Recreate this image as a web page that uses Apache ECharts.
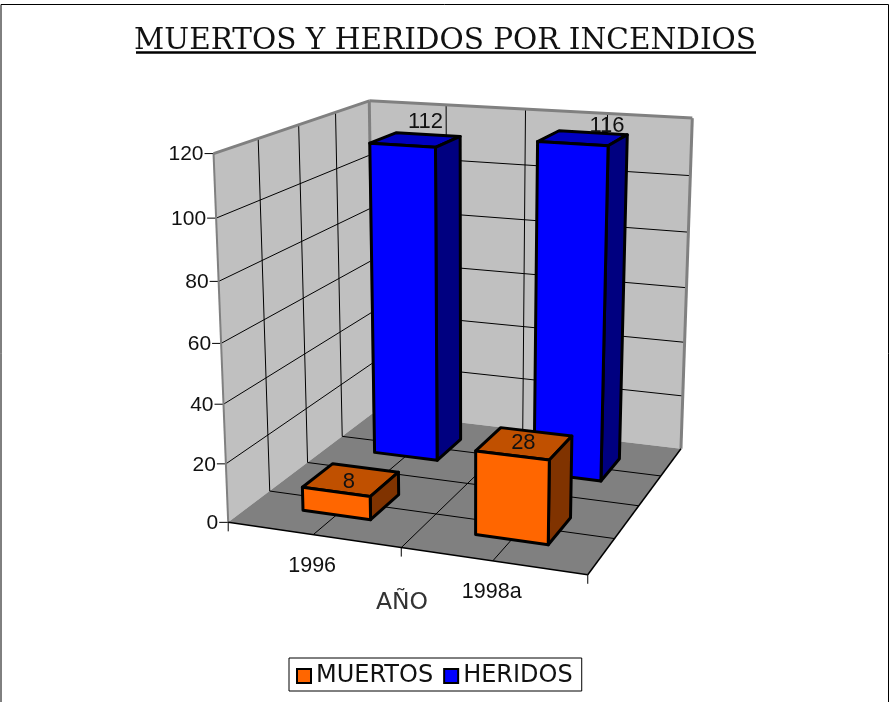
<!DOCTYPE html>
<html>
<head>
<meta charset="utf-8">
<title>Muertos y heridos por incendios</title>
<script src="https://cdn.jsdelivr.net/npm/echarts@6/dist/echarts.min.js"></script>
<style>
  html, body { margin: 0; padding: 0; background: #fff; }
  #main { width: 890px; height: 702px; }
</style>
</head>
<body>
<div id="main"></div>
<script>
var categories = ['1996', '1998a'];
var muertos = [8, 28];
var heridos = [112, 116];
var yTicks = [0, 20, 40, 60, 80, 100, 120];
var seriesNames = ['MUERTOS', 'HERIDOS'];

var yMax = 120;
var BAR_GAP = 0.3; // each side of a bar, as part of a category cell

// where the corners of the 3d box land on the page: [x, depth, height] -> [px, py]
var corners = [
  [[0, 0, 0], [228.3, 522.7]],
  [[1, 0, 0], [587.7, 574.5]],
  [[1, 1, 0], [681, 449]],
  [[0, 1, 0], [374, 412]],
  [[0, 0, 1], [213.5, 153.5]],
  [[0, 1, 1], [369.3, 101]],
  [[1, 1, 1], [692.3, 118]]
];

// least squares camera matrix from the corners above
function solveCamera() {
  var rows = [], rhs = [];
  corners.forEach(function (c) {
    var p = c[0], u = c[1][0], v = c[1][1];
    rows.push([p[0], p[1], p[2], 1, 0, 0, 0, 0, -u * p[0], -u * p[1], -u * p[2]]);
    rhs.push(u);
    rows.push([0, 0, 0, 0, p[0], p[1], p[2], 1, -v * p[0], -v * p[1], -v * p[2]]);
    rhs.push(v);
  });
  var n = 11, a = [];
  for (var i = 0; i < n; i++) {
    a[i] = [];
    for (var j = 0; j <= n; j++) {
      var s = 0;
      for (var r = 0; r < rows.length; r++) {
        s += rows[r][i] * (j < n ? rows[r][j] : rhs[r]);
      }
      a[i][j] = s;
    }
  }
  for (i = 0; i < n; i++) {
    var best = i;
    for (r = i + 1; r < n; r++) if (Math.abs(a[r][i]) > Math.abs(a[best][i])) best = r;
    var t = a[i]; a[i] = a[best]; a[best] = t;
    for (r = 0; r < n; r++) {
      if (r === i) continue;
      var f = a[r][i] / a[i][i];
      for (j = i; j <= n; j++) a[r][j] -= f * a[i][j];
    }
  }
  return a.map(function (row, k) { return row[n] / row[k]; });
}
var cam = solveCamera();

// x in category cells, d in series cells, h in axis units
function project(x, d, h) {
  var X = x / categories.length, D = d / seriesNames.length, H = h / yMax;
  var w = cam[8] * X + cam[9] * D + cam[10] * H + 1;
  return [
    (cam[0] * X + cam[1] * D + cam[2] * H + cam[3]) / w,
    (cam[4] * X + cam[5] * D + cam[6] * H + cam[7]) / w
  ];
}

// read the value back out of the hidden cartesian scales
function fromAxes(api, params, cat, val) {
  var pt = api.coord([cat, val]);
  var cs = params.coordSys;
  return {
    x: (pt[0] - cs.x) / cs.width * categories.length,
    h: (cs.y + cs.height - pt[1]) / cs.height * yMax
  };
}

function line(a, b, color, width) {
  return {
    type: 'line',
    shape: { x1: a[0], y1: a[1], x2: b[0], y2: b[1] },
    style: { stroke: color, lineWidth: width }
  };
}
function poly(points, fill, stroke, width) {
  return {
    type: 'polygon',
    shape: { points: points },
    style: { fill: fill, stroke: stroke || null, lineWidth: width || 0, lineJoin: 'round' }
  };
}
function label(text, x, y, align, font, color) {
  return {
    type: 'text',
    style: {
      text: text, x: x, y: y, align: align, verticalAlign: 'middle',
      fill: color || '#111', font: font || '21px "Liberation Sans"'
    }
  };
}

function renderBox(params, api) {
  var c = [];
  var nx = categories.length, nd = seriesNames.length;
  var wallEdge = '#808080';

  c.push(poly([project(0, 0, 0), project(0, nd, 0), project(0, nd, yMax), project(0, 0, yMax)], '#c0c0c0'));
  c.push(poly([project(0, nd, 0), project(nx, nd, 0), project(nx, nd, yMax), project(0, nd, yMax)], '#c0c0c0'));
  c.push(poly([project(0, 0, 0), project(nx, 0, 0), project(nx, nd, 0), project(0, nd, 0)], '#808080'));

  // grid runs at every half cell in both directions
  var step, s;
  for (s = 1; s < 4; s++) {
    step = s / 2;
    c.push(line(project(0, step, 0), project(nx, step, 0), '#000', 1));
    c.push(line(project(0, step, 0), project(0, step, yMax), '#000', 1));
    c.push(line(project(step, 0, 0), project(step, nd, 0), '#000', 1));
    c.push(line(project(step, nd, 0), project(step, nd, yMax), '#000', 1));
  }

  yTicks.forEach(function (tick) {
    var h = fromAxes(api, params, 0, tick).h;
    var a = project(0, 0, h);
    if (tick > 0 && tick < yMax) {
      c.push(line(a, project(0, nd, h), '#000', 1));
      c.push(line(project(0, nd, h), project(nx, nd, h), '#000', 1));
    }
    c.push(line([a[0] - 9, a[1]], a, '#000', 1));
    c.push(label(String(tick), a[0] - 10, a[1] + 1, 'right'));
  });

  // wall outline
  c.push(line(project(0, 0, 0), project(0, 0, yMax), wallEdge, 2));
  c.push(line(project(0, 0, yMax), project(0, nd, yMax), wallEdge, 3));
  c.push(line(project(0, nd, yMax), project(nx, nd, yMax), wallEdge, 3));
  c.push(line(project(nx, nd, yMax), project(nx, nd, 0), wallEdge, 3));
  c.push(line(project(0, nd, yMax), project(0, nd, 0), wallEdge, 3));

  // floor front and right edge
  c.push(line(project(0, 0, 0), project(nx, 0, 0), '#000', 1.5));
  c.push(line(project(nx, 0, 0), project(nx, nd, 0), '#000', 1.5));

  var tx;
  for (tx = 0; tx <= nx; tx++) {
    var p = project(tx, 0, 0);
    c.push(line(p, [p[0], p[1] + 9], '#000', 1));
  }
  categories.forEach(function (name, i) {
    var q = fromAxes(api, params, i, 0);
    var at = project(q.x, 0, 0);
    c.push(label(name, at[0] - 1, at[1] + 31, 'center', '21.5px "Liberation Sans"'));
  });
  c.push(label('AÑO', 402, 603, 'center', '23.5px "DejaVu Sans"', '#333'));

  return { type: 'group', children: c };
}

function barRenderer(depthIndex, colors, labelNudge) {
  return function (params, api) {
    var i = api.value(0);
    var q = fromAxes(api, params, i, api.value(1));
    var g = BAR_GAP;
    var x0 = q.x - 0.5 + g, x1 = q.x + 0.5 - g;
    var d0 = depthIndex + g, d1 = depthIndex + 1 - g;
    var stroke = '#000', lw = 3;
    var top = [project(x0, d0, q.h), project(x1, d0, q.h), project(x1, d1, q.h), project(x0, d1, q.h)];
    var centre = project(q.x, depthIndex + 0.5, q.h);
    var nudge = labelNudge[i];
    return {
      type: 'group',
      children: [
        poly(top, colors.top, stroke, lw),
        poly([project(x1, d0, 0), project(x1, d1, 0), project(x1, d1, q.h), project(x1, d0, q.h)], colors.side, stroke, lw),
        poly([project(x0, d0, 0), project(x1, d0, 0), project(x1, d0, q.h), project(x0, d0, q.h)], colors.front, stroke, lw),
        label(String(api.value(1)), centre[0] + nudge[0], centre[1] + nudge[1], 'center', '22px "Liberation Sans"')
      ]
    };
  };
}

function toPairs(values) {
  return values.map(function (v, i) { return [i, v]; });
}

var chart = echarts.init(document.getElementById('main'), null, { renderer: 'canvas' });
chart.setOption({
  animation: false,
  backgroundColor: '#fff',
  title: {
    text: 'MUERTOS Y HERIDOS POR INCENDIOS',
    left: 'center',
    top: 21,
    textStyle: { fontFamily: '"DejaVu Serif"', fontWeight: 'normal', fontSize: 29.5, color: '#111' }
  },
  legend: {
    data: seriesNames,
    left: 289,
    top: 658,
    padding: [6, 9, 3, 7],
    itemWidth: 14,
    itemHeight: 14,
    itemGap: 10,
    icon: 'rect',
    backgroundColor: '#fff',
    borderColor: '#000',
    borderWidth: 1,
    borderRadius: 0,
    selectedMode: false,
    itemStyle: { borderColor: '#000', borderWidth: 2 },
    textStyle: { fontFamily: '"DejaVu Sans"', fontSize: 24, color: '#111', padding: [0, 0, 0, 0] }
  },
  grid: { left: 100, top: 100, width: 600, height: 400, show: false },
  xAxis: { type: 'category', data: categories, show: false },
  yAxis: { type: 'value', min: 0, max: yMax, interval: 20, show: false },
  graphic: [
    {
      type: 'polyline',
      silent: true,
      shape: { points: [[1, 702], [1, 4.5], [888.5, 4.5], [888.5, 702]] },
      style: { stroke: '#000', lineWidth: 1, fill: null }
    },
    {
      type: 'line',
      silent: true,
      shape: { x1: 136, y1: 52.5, x2: 756, y2: 52.5 },
      style: { stroke: '#000', lineWidth: 2.5 }
    }
  ],
  series: [
    {
      name: 'caja',
      type: 'custom',
      silent: true,
      z: 1,
      data: [[0, 0]],
      encode: { x: 0, y: 1 },
      renderItem: renderBox
    },
    {
      name: seriesNames[1],
      type: 'custom',
      silent: true,
      z: 2,
      itemStyle: { color: '#0000ff' },
      data: toPairs(heridos),
      encode: { x: 0, y: 1 },
      renderItem: barRenderer(1, { front: '#0000ff', top: '#0000c0', side: '#000080' }, [[10, -18], [24, -12]])
    },
    {
      name: seriesNames[0],
      type: 'custom',
      silent: true,
      z: 3,
      itemStyle: { color: '#ff6600' },
      data: toPairs(muertos),
      encode: { x: 0, y: 1 },
      renderItem: barRenderer(0, { front: '#ff6600', top: '#c05000', side: '#803300' }, [[-2, 2], [-1, 0]])
    }
  ]
});
</script>
</body>
</html>
